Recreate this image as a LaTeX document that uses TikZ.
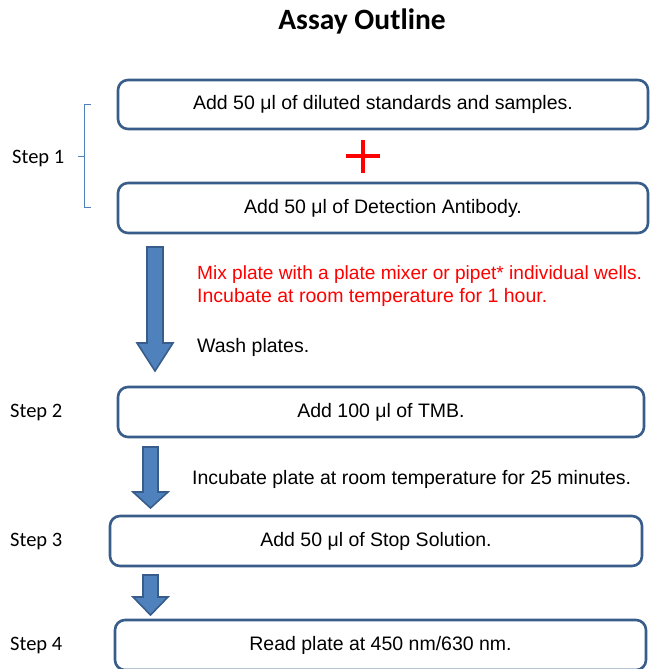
\documentclass[tikz,border=0pt]{standalone}
\usepackage{fontspec}
\setmainfont{Liberation Sans}
\newfontfamily\calibri{Carlito}
\definecolor{boxline}{RGB}{56,93,138}
\definecolor{arrowfill}{RGB}{79,129,189}
\definecolor{bracketc}{RGB}{79,129,189}
\definecolor{redtxt}{RGB}{255,0,0}
\begin{document}
\begin{tikzpicture}[x=1pt,y=-1pt,
  stepbox/.style={draw=boxline, line width=2.6pt, rounded corners=10pt, fill=white,
    inner sep=0pt, font=\fontsize{19.5}{23}\selectfont},
  steplabel/.style={anchor=west, inner sep=0pt, font=\calibri\fontsize{20.5}{24}\selectfont},
  note/.style={anchor=base west, inner sep=0pt, font=\fontsize{19.5}{23}\selectfont},
  blockarrow/.style={fill=arrowfill, draw=boxline, line width=1.6pt, line join=miter}]
\useasboundingbox (0,0) rectangle (649,669);

\node[font=\calibri\bfseries\fontsize{29.5}{34}\selectfont, inner sep=0pt] (title) at (362,21) {Assay Outline};

% boxes
\node[stepbox, minimum width=530pt, minimum height=49pt] (b1) at (383,104.5) {Add 50 μl of diluted standards and samples.};
\node[stepbox, minimum width=530pt, minimum height=50pt] (b2) at (383,208) {Add 50 μl of Detection Antibody.};
\node[stepbox, minimum width=526pt, minimum height=50pt] (b3) at (381,412) {Add 100 μl of TMB.};
\node[stepbox, minimum width=532pt, minimum height=50pt] (b4) at (376,541) {Add 50 μl of Stop Solution.};
\node[stepbox, minimum width=531pt, minimum height=50pt] (b5) at (380.5,645) {Read plate at 450 nm/630 nm.};

% step labels
\node[steplabel] (s1) at (12,158) {Step 1};
\node[steplabel] (s2) at (10,412) {Step 2};
\node[steplabel] (s3) at (10,541) {Step 3};
\node[steplabel] (s4) at (10,645) {Step 4};

% bracket
\draw[bracketc, line width=0.9pt] (91,104) -- (84.5,104) -- (84.5,207) -- (91,207);
\draw[bracketc, line width=0.9pt] (84.5,156.5) -- (77.5,156.5);

% red plus
\draw[redtxt, line width=4pt] (346,156) -- (380,156);
\draw[redtxt, line width=4pt] (363,139.5) -- (363,172.5);

% arrows
\draw[blockarrow] (147,247) -- (163,247) -- (163,343) -- (173,343) -- (155,371) -- (137,343) -- (147,343) -- cycle;
\draw[blockarrow] (143,447) -- (158,447) -- (158,492) -- (168,492) -- (150.5,508) -- (133,492) -- (143,492) -- cycle;
\draw[blockarrow] (143,575) -- (158,575) -- (158,597) -- (168,597) -- (150.5,615) -- (133,597) -- (143,597) -- cycle;

% notes
\node[note, text=redtxt, font=\fontsize{19.1}{23}\selectfont] (n1) at (197,279) {Mix plate with a plate mixer or pipet* individual wells.};
\node[note, text=redtxt] (n2) at (197,302.5) {Incubate at room temperature for 1 hour.};
\node[note] (n3) at (197,352) {Wash plates.};
\node[note] (n4) at (192,484) {Incubate plate at room temperature for 25 minutes.};
\end{tikzpicture}
\end{document}
